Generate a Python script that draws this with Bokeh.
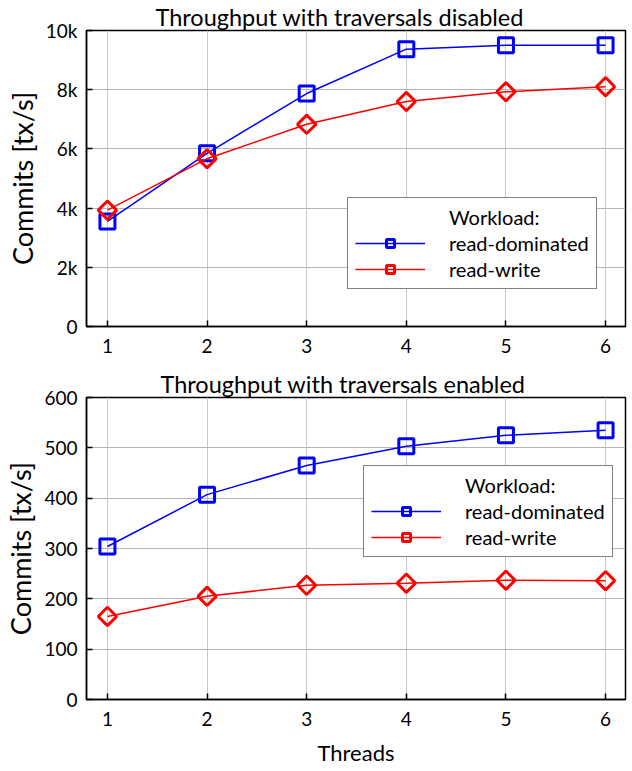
from bokeh.plotting import figure
from bokeh.layouts import column
from bokeh.models import FixedTicker, Legend, LegendItem, Range1d
from bokeh.embed import file_html
from bokeh.resources import INLINE
import math

threads = [1, 2, 3, 4, 5, 6]
dis_read_dominated = [3550, 5850, 7870, 9370, 9500, 9500]
dis_read_write = [3930, 5670, 6830, 7600, 7930, 8100]
en_read_dominated = [304, 407, 465, 503, 525, 535]
en_read_write = [165, 205, 227, 231, 237, 236]

dis_y_ticks = [0, 2000, 4000, 6000, 8000, 10000]
dis_y_labels = ["0", "2k", "4k", "6k", "8k", "10k"]
en_y_ticks = [0, 100, 200, 300, 400, 500, 600]
en_y_labels = ["0", "100", "200", "300", "400", "500", "600"]

FONT = "Lato"
BLUE = "#0000ff"
RED = "#ff0000"
X_MIN, X_MAX = 0.79, 6.2


def make_fig(title, title_offset, y_max, y_ticks, y_labels, yd, yw,
             legend_loc, border_top, frame_h, border_bottom, xlabel):
    p = figure(output_backend="svg", toolbar_location=None,
               frame_width=539, frame_height=frame_h,
               min_border_left=86, min_border_right=5,
               min_border_top=border_top, min_border_bottom=border_bottom,
               x_range=Range1d(X_MIN, X_MAX), y_range=Range1d(0, y_max),
               title=title)
    p.title.text_font = FONT
    p.title.text_font_size = "23.5px"
    p.title.text_font_style = "normal"
    p.title.text_color = "black"
    p.title.align = "left"
    p.title.offset = title_offset
    p.title.standoff = 0

    p.outline_line_color = "black"
    p.outline_line_width = 1.5
    p.outline_line_alpha = 1

    for ax in (p.xaxis[0], p.yaxis[0]):
        ax.major_label_text_font = FONT
        ax.major_label_text_font_size = "19px"
        ax.major_label_text_color = "black"
        ax.axis_line_color = "black"
        ax.axis_line_width = 1.5
        ax.major_tick_in = 6
        ax.major_tick_out = 0
        ax.major_tick_line_color = "black"
        ax.major_tick_line_width = 1.5
        ax.minor_tick_line_color = None
        ax.axis_label_text_font = FONT
        ax.axis_label_text_font_style = "normal"
        ax.axis_label_text_color = "black"

    p.xaxis[0].major_label_standoff = 12
    p.yaxis[0].major_label_standoff = 9
    p.xaxis[0].ticker = FixedTicker(ticks=threads)
    p.yaxis[0].ticker = FixedTicker(ticks=y_ticks)
    p.yaxis[0].major_label_overrides = {t: l for t, l in zip(y_ticks, y_labels)}
    p.yaxis[0].axis_label = "Commits [tx/s]"
    p.yaxis[0].axis_label_text_font_size = "27px"
    p.yaxis[0].axis_label_standoff = 4
    if xlabel:
        p.xaxis[0].axis_label = xlabel
        p.xaxis[0].axis_label_text_font_size = "22px"
        p.xaxis[0].axis_label_standoff = 10

    p.xgrid.grid_line_color = "#c8c8c8"
    p.ygrid.grid_line_color = "#b4b4b4"
    p.xgrid.grid_line_width = 1
    p.ygrid.grid_line_width = 1

    dummy = p.line([1], [0], line_alpha=0)
    l1 = p.line(threads, yd, line_color=BLUE, line_width=1.5)
    s1 = p.scatter(threads, yd, marker="square", size=15, fill_color="white",
                   fill_alpha=0, line_color=BLUE, line_width=3)
    l2 = p.line(threads, yw, line_color=RED, line_width=1.5)
    s2 = p.scatter(threads, yw, marker="square", angle=math.pi / 4, size=13,
                   fill_color="white", fill_alpha=0, line_color=RED, line_width=3)

    legend = Legend(items=[
        LegendItem(label="Workload:", renderers=[dummy]),
        LegendItem(label="read-dominated", renderers=[l1, s1]),
        LegendItem(label="read-write", renderers=[l2, s2]),
    ], location=legend_loc)
    legend.label_text_font = FONT
    legend.label_text_font_size = "20px"
    legend.label_text_color = "black"
    legend.glyph_width = 70
    legend.glyph_height = 20
    legend.label_height = 20
    legend.spacing = 2
    legend.padding = 7
    legend.margin = 0
    legend.label_standoff = 24
    legend.border_line_color = "black"
    legend.border_line_width = 1.5
    legend.background_fill_alpha = 1
    p.add_layout(legend, "center")
    return p


top = make_fig("Throughput with traversals disabled", 69, 10000, dis_y_ticks,
               dis_y_labels, dis_read_dominated, dis_read_write, (261, 37),
               0, 296, 35, None)
bottom = make_fig("Throughput with traversals enabled", 74, 600, en_y_ticks,
                  en_y_labels, en_read_dominated, en_read_write, (277, 142),
                  36, 302, 0, "Threads")

layout = column(top, bottom, spacing=0)
open("out.html", "w").write(file_html(layout, INLINE))
